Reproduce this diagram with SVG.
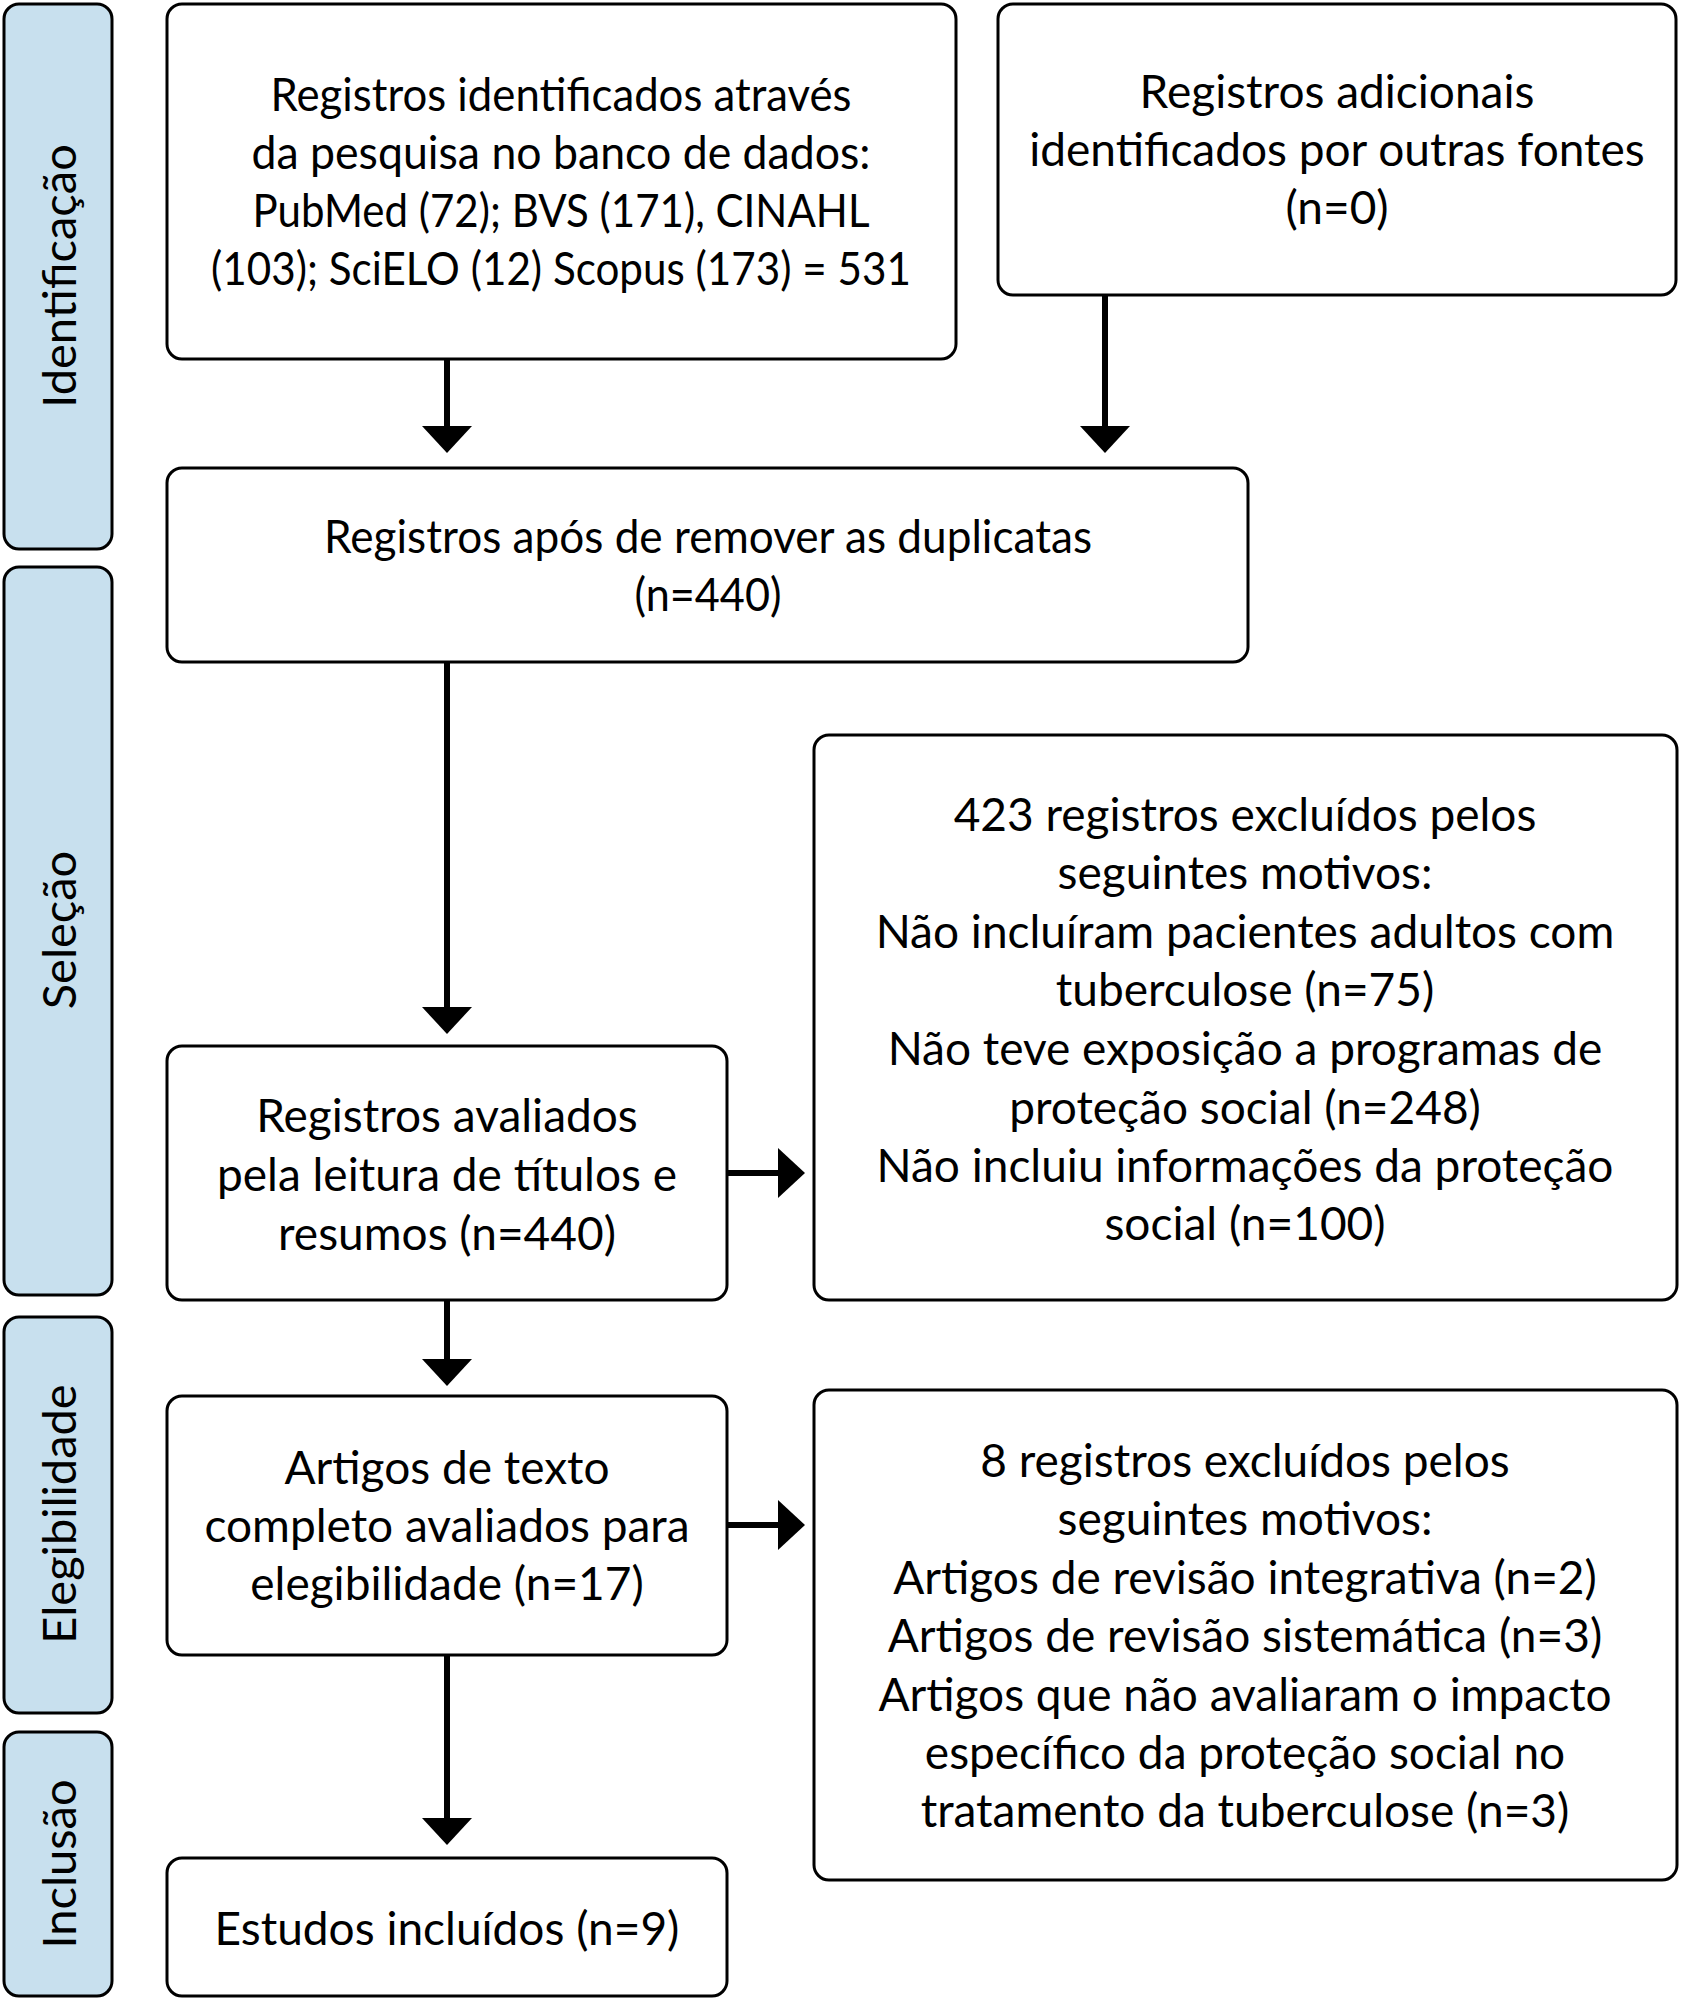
<svg xmlns="http://www.w3.org/2000/svg" width="1681" height="2000" viewBox="0 0 1681 2000">
<style>
.box{fill:#fff;stroke:#000;stroke-width:3}
.lab{fill:#c8e0ee;stroke:#000;stroke-width:3}
.t{font-family:Lato,"Liberation Sans",sans-serif;font-size:46px;fill:#000;text-anchor:middle}
.lt{font-family:Lato,"Liberation Sans",sans-serif;font-size:47px;fill:#000;text-anchor:middle}
.c{stroke:#000;stroke-width:6;fill:none;marker-end:url(#ah)}
</style>
<defs>
<marker id="ah" markerUnits="userSpaceOnUse" viewBox="0 0 27 50" markerWidth="27" markerHeight="50" refX="1" refY="25" orient="auto">
<path d="M0,0 L27,25 L0,50 Z" fill="#000"/>
</marker>
</defs>
<rect width="1681" height="2000" fill="#fff"/>
<g id="label-identificacao">
<rect class="lab" x="4" y="4" width="108" height="545" rx="15"/>
<text class="lt" transform="translate(76 276) rotate(-90)">Identificação</text>
</g>
<g id="label-selecao">
<rect class="lab" x="4" y="567" width="108" height="728" rx="15"/>
<text class="lt" transform="translate(76 930) rotate(-90)">Seleção</text>
</g>
<g id="label-elegibilidade">
<rect class="lab" x="4" y="1317" width="108" height="396" rx="15"/>
<text class="lt" transform="translate(76 1514) rotate(-90)">Elegibilidade</text>
</g>
<g id="label-inclusao">
<rect class="lab" x="4" y="1732" width="108" height="264" rx="15"/>
<text class="lt" transform="translate(76 1864) rotate(-90)">Inclusão</text>
</g>
<g id="connectors">
<line class="c" x1="447" y1="359" x2="447" y2="427"/>
<line class="c" x1="1105" y1="295" x2="1105" y2="427"/>
<line class="c" x1="447" y1="662" x2="447" y2="1008"/>
<line class="c" x1="447" y1="1300" x2="447" y2="1360"/>
<line class="c" x1="447" y1="1655" x2="447" y2="1819"/>
<line class="c" x1="727" y1="1173" x2="779" y2="1173"/>
<line class="c" x1="727" y1="1525" x2="779" y2="1525"/>
</g>
<g id="box-identificados">
<rect class="box" x="167" y="4" width="789" height="355" rx="15"/>
<text class="t" x="561" y="111" textLength="581" lengthAdjust="spacingAndGlyphs">Registros identificados através</text>
<text class="t" x="561" y="169" textLength="619" lengthAdjust="spacingAndGlyphs">da pesquisa no banco de dados:</text>
<text class="t" x="561" y="227" textLength="617" lengthAdjust="spacingAndGlyphs">PubMed (72); BVS (171), CINAHL</text>
<text class="t" x="561" y="285" textLength="700" lengthAdjust="spacingAndGlyphs">(103); SciELO (12) Scopus (173) = 531</text>
</g>
<g id="box-adicionais">
<rect class="box" x="998" y="4" width="678" height="291" rx="15"/>
<text class="t" x="1337" y="108">Registros adicionais</text>
<text class="t" x="1337" y="166">identificados por outras fontes</text>
<text class="t" x="1337" y="224">(n=0)</text>
</g>
<g id="box-duplicatas">
<rect class="box" x="167" y="468" width="1081" height="194" rx="15"/>
<text class="t" x="708" y="553" textLength="768" lengthAdjust="spacingAndGlyphs">Registros após de remover as duplicatas</text>
<text class="t" x="708" y="611" textLength="147" lengthAdjust="spacingAndGlyphs">(n=440)</text>
</g>
<g id="box-avaliados">
<rect class="box" x="167" y="1046" width="560" height="254" rx="15"/>
<text class="t" x="447" y="1132">Registros avaliados</text>
<text class="t" x="447" y="1191">pela leitura de títulos e</text>
<text class="t" x="447" y="1250">resumos (n=440)</text>
</g>
<g id="box-excluidos-423">
<rect class="box" x="814" y="735" width="863" height="565" rx="15"/>
<text class="t" x="1245" y="831">423 registros excluídos pelos</text>
<text class="t" x="1245" y="889">seguintes motivos:</text>
<text class="t" x="1245" y="948">Não incluíram pacientes adultos com</text>
<text class="t" x="1245" y="1006">tuberculose (n=75)</text>
<text class="t" x="1245" y="1065">Não teve exposição a programas de</text>
<text class="t" x="1245" y="1124">proteção social (n=248)</text>
<text class="t" x="1245" y="1182">Não incluiu informações da proteção</text>
<text class="t" x="1245" y="1240">social (n=100)</text>
</g>
<g id="box-texto-completo">
<rect class="box" x="167" y="1396" width="560" height="259" rx="15"/>
<text class="t" x="447" y="1484">Artigos de texto</text>
<text class="t" x="447" y="1542">completo avaliados para</text>
<text class="t" x="447" y="1600">elegibilidade (n=17)</text>
</g>
<g id="box-excluidos-8">
<rect class="box" x="814" y="1390" width="863" height="490" rx="15"/>
<text class="t" x="1245" y="1477">8 registros excluídos pelos</text>
<text class="t" x="1245" y="1535">seguintes motivos:</text>
<text class="t" x="1245" y="1594">Artigos de revisão integrativa (n=2)</text>
<text class="t" x="1245" y="1652">Artigos de revisão sistemática (n=3)</text>
<text class="t" x="1245" y="1711">Artigos que não avaliaram o impacto</text>
<text class="t" x="1245" y="1769">específico da proteção social no</text>
<text class="t" x="1245" y="1827">tratamento da tuberculose (n=3)</text>
</g>
<g id="box-incluidos">
<rect class="box" x="167" y="1858" width="560" height="138" rx="15"/>
<text class="t" x="447" y="1945">Estudos incluídos (n=9)</text>
</g>
</svg>
